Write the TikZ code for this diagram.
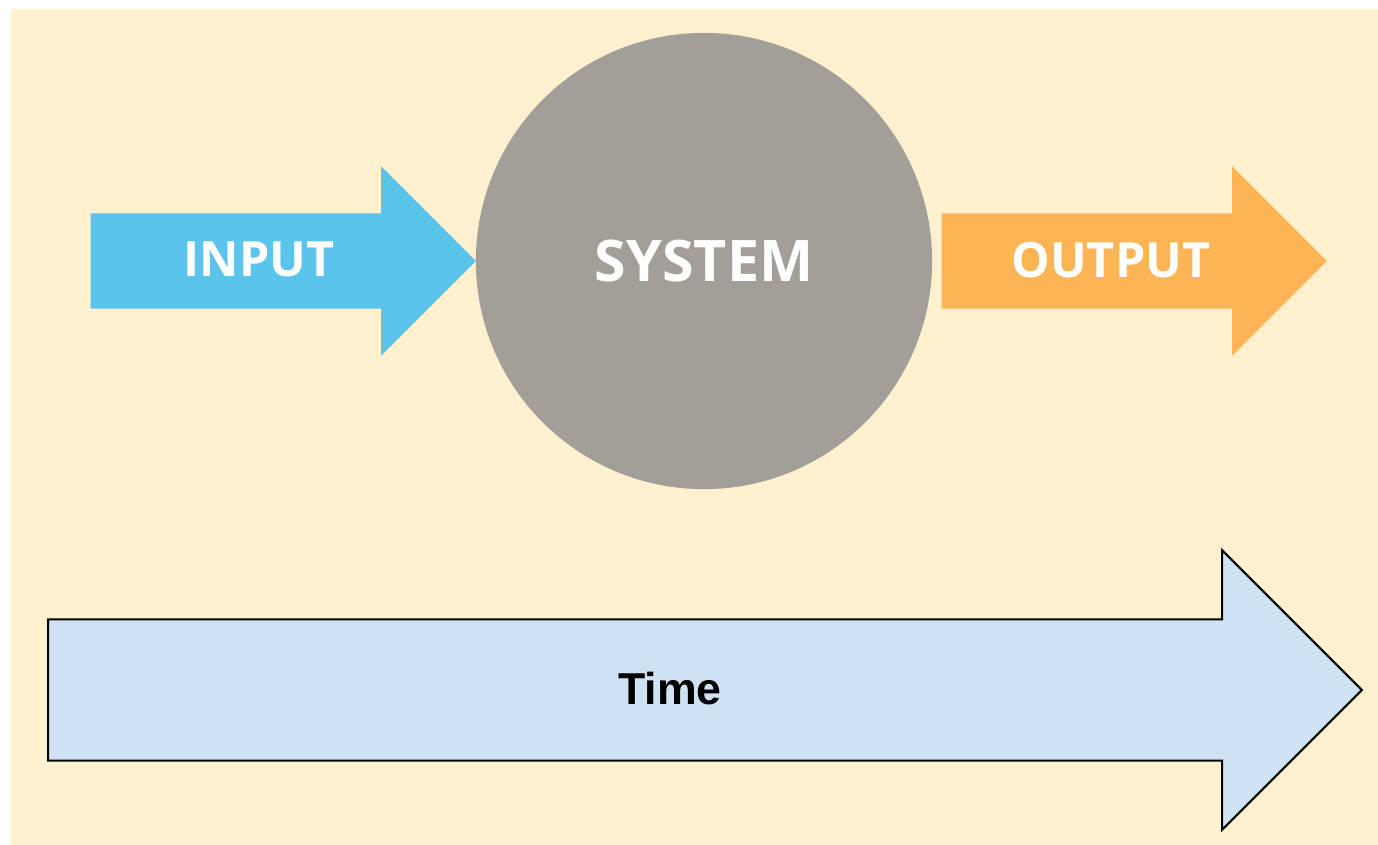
\documentclass[tikz,border=0pt]{standalone}
\usepackage{fontspec}
\usepackage{tikz}
\usetikzlibrary{shapes.arrows, positioning}
\newfontfamily\opensans{Open Sans}
\newfontfamily\arialfont{Liberation Sans}
\definecolor{cream}{HTML}{FFF0CF}
\definecolor{inblue}{HTML}{5BC4EA}
\definecolor{sysgray}{HTML}{A29F98}
\definecolor{outorange}{HTML}{FDB454}
\definecolor{timeblue}{HTML}{CFE2F3}
\tikzset{
    blockarrow/.style={single arrow,single arrow head extend=0.47cm,minimum width=1.88cm,
        minimum height=3.85cm,inner xsep=0pt,inner ysep=0.47cm,anchor=tail,draw=none},
    caption/.style={inner sep=0pt,text=white,font=\opensans\bfseries\fontsize{13.8}{16}\selectfont},
    system/.style={circle,fill=sysgray,minimum size=4.56cm,inner sep=0pt,
        text=white,font=\opensans\bfseries\fontsize{16.3}{19}\selectfont},
    timearrow/.style={single arrow,single arrow head extend=0.69cm,minimum width=2.77cm,
        minimum height=13.13cm,inner xsep=0pt,inner ysep=0.695cm,anchor=tail,
        fill=timeblue,draw=black,line width=0.6pt},
    timelabel/.style={inner sep=0pt,font=\arialfont\bfseries\fontsize{12.7}{15}\selectfont},
}
\begin{document}
\begin{tikzpicture}[x=0.01cm,y=-0.01cm]
    \useasboundingbox (0,0) rectangle (1378,845);
    \fill[cream] (11,9) rectangle (1378,845);

    \node[blockarrow,fill=inblue] (in) at (90,261) {};
    \node[system] (sys) at (704,261) {SYSTEM};
    \node[blockarrow,fill=outorange] (out) at (941,261) {};
    \node[caption] (inlabel) at (259,259) {INPUT};
    \node[caption] (outlabel) at (1111,260) {OUTPUT};

    \node[timearrow] (time) at (47,690) {};
    \node[timelabel] (timelabel) at (670,689) {Time};
\end{tikzpicture}
\end{document}
